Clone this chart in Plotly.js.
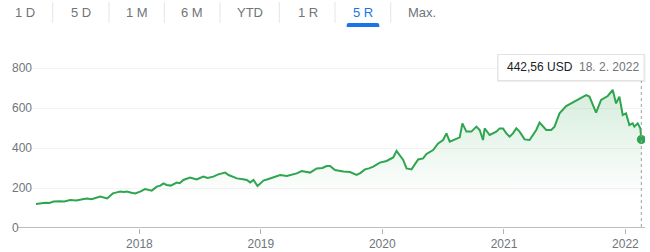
<!DOCTYPE html>
<html>
<head>
<meta charset="utf-8">
<script src="https://cdn.plot.ly/plotly-3.0.1.min.js"></script>
<style>
html,body{margin:0;padding:0;background:#fff;}
#chart{width:650px;height:252px;}
</style>
</head>
<body>
<div id="chart"></div>
<script>
// ---- data ----
const dates = [
 '2017-02-24','2017-03-10','2017-03-24','2017-04-05','2017-04-18','2017-05-05','2017-05-20','2017-06-07','2017-06-25','2017-07-10',
 '2017-07-27','2017-08-10','2017-08-22','2017-09-05','2017-09-26','2017-10-13','2017-10-25','2017-11-04','2017-11-15','2017-11-24',
 '2017-12-08','2017-12-19',
 '2018-01-03','2018-01-18','2018-02-07','2018-02-22','2018-03-05','2018-03-14','2018-03-24','2018-04-05','2018-04-23','2018-05-02',
 '2018-05-13','2018-06-02','2018-06-22','2018-07-12','2018-07-25','2018-08-11','2018-08-26','2018-09-16','2018-09-26','2018-10-10',
 '2018-10-21','2018-11-08','2018-11-20','2018-11-30','2018-12-10','2018-12-22',
 '2019-01-09','2019-01-24','2019-02-08','2019-02-28','2019-03-20','2019-04-05','2019-04-19','2019-05-04','2019-05-29','2019-06-18',
 '2019-07-05','2019-07-18','2019-07-28','2019-08-12','2019-08-25','2019-09-06','2019-09-26','2019-10-16','2019-10-28','2019-11-10',
 '2019-11-22','2019-12-05','2019-12-25',
 '2020-01-14','2020-02-03','2020-02-13','2020-03-04','2020-03-14','2020-03-29','2020-04-03','2020-04-18','2020-05-03','2020-05-13',
 '2020-06-02','2020-06-17','2020-07-02','2020-07-12','2020-07-22','2020-08-11','2020-08-21','2020-08-29','2020-09-10','2020-09-25',
 '2020-10-10','2020-10-20','2020-10-30','2020-11-04','2020-11-19','2020-12-09','2020-12-19','2020-12-29',
 '2021-01-08','2021-01-18','2021-01-28','2021-02-07','2021-02-17','2021-03-04','2021-03-19','2021-04-08','2021-04-18','2021-05-08',
 '2021-05-23','2021-06-02','2021-06-17','2021-07-07','2021-07-22','2021-08-16','2021-09-05','2021-09-15','2021-10-05','2021-10-20',
 '2021-11-09','2021-11-24','2021-12-04','2021-12-14','2021-12-24',
 '2022-01-03','2022-01-13','2022-01-23','2022-01-28','2022-02-07','2022-02-15','2022-02-18'
];
const prices = [
 120,124,126,125,132,134,133,140,138,143,
 147,144,149,157,148,173,178,182,180,182,
 176,173,
 182,195,187,207,212,223,215,212,227,224,
 240,252,243,257,250,257,268,277,265,256,
 248,244,240,228,240,210,
 237,245,253,265,260,266,273,285,277,298,
 300,310,310,290,286,282,280,265,276,293,
 298,307,327,
 335,353,385,340,298,293,307,343,348,370,
 390,423,440,473,432,448,453,523,482,482,
 507,490,440,498,465,482,498,498,
 473,457,473,498,482,443,440,490,527,490,
 490,507,573,610,623,648,665,657,577,640,
 660,690,623,657,565,
 573,515,523,507,523,498,442.56
];
const yTicks = [0, 200, 400, 600, 800];
const xTickVals = ['2018-01-01','2019-01-01','2020-01-01','2021-01-01','2022-01-01'];
const xTickText = ['2018','2019','2020','2021','2022'];
const tabs = ['1 D','5 D','1 M','6 M','YTD','1 R','5 R','Max.'];
const activeTab = '5 R';
const tipPrice = '442,56 USD';
const tipDate = '18. 2. 2022';

// ---- layout geometry ----
const W = 650, H = 252, L = 33, R = 5, T = 48, B = 24;
const PW = W - L - R, PH = H - T - B;
const px = v => (v - L) / PW;
const py = v => (H - B - v) / PH;
const FONT = 'Arial, "Liberation Sans", sans-serif';
const GREEN = '#2ea54f';
const GRAY = '#70757a';

const lastDate = dates[dates.length - 1];
const lastPrice = prices[prices.length - 1];

const traces = [
  {
    x: dates, y: prices, type: 'scatter', mode: 'lines',
    line: {color: GREEN, width: 2},
    fill: 'tozeroy',
    fillgradient: {type: 'vertical', start: 150, stop: 700,
      colorscale: [[0, 'rgba(46,165,79,0)'], [1, 'rgba(46,165,79,0.2)']]},
    hoverinfo: 'skip'
  },
  {
    x: [lastDate], y: [lastPrice], type: 'scatter', mode: 'markers',
    marker: {color: GREEN, size: 9}, hoverinfo: 'skip'
  }
];

const tabCenters = [25, 80.7, 137, 192, 250, 307.7, 363];
const seps = [52.7, 109, 164.3, 220, 279.3, 335, 390.7];

const annotations = [];
yTicks.forEach(v => annotations.push({
  xref: 'paper', yref: 'y', x: px(10), y: v, xanchor: 'left', yanchor: 'middle',
  text: String(v), showarrow: false, font: {family: FONT, size: 12, color: GRAY}
}));
tabs.forEach((t, i) => {
  const isMax = i === tabs.length - 1;
  annotations.push({
    xref: 'paper', yref: 'paper',
    x: isMax ? px(406) : px(tabCenters[i]), xanchor: isMax ? 'left' : 'center',
    y: py(12.5), yanchor: 'middle', text: t, showarrow: false,
    font: {family: FONT, size: 13, color: t === activeTab ? '#1a73e8' : GRAY}
  });
});
annotations.push({
  xref: 'paper', yref: 'paper', x: px(505), y: py(67), xanchor: 'left', yanchor: 'middle',
  text: tipPrice, showarrow: false, font: {family: FONT, size: 12, color: '#202124'}
});
annotations.push({
  xref: 'paper', yref: 'paper', x: px(577), y: py(67), xanchor: 'left', yanchor: 'middle',
  text: tipDate, showarrow: false, font: {family: FONT, size: 12, color: GRAY}
});

const shapes = [];
seps.forEach(s => shapes.push({
  type: 'line', xref: 'paper', yref: 'paper', x0: px(s), x1: px(s), y0: py(2), y1: py(23),
  line: {color: '#e3e5e8', width: 1}
}));
// active tab underline (rounded top)
{
  const x0 = px(346.7), x1 = px(379.3), r = px(348.7) - px(346.7);
  const yb = py(27), yt = py(23), yr = py(25);
  shapes.push({type: 'path', xref: 'paper', yref: 'paper',
    path: `M${x0},${yb} L${x0},${yr} Q${x0},${yt} ${x0 + r},${yt} L${x1 - r},${yt} Q${x1},${yt} ${x1},${yr} L${x1},${yb} Z`,
    fillcolor: '#1a73e8', line: {width: 0}});
}
// baseline axis line extending left of plot
shapes.push({type: 'line', xref: 'paper', yref: 'y', x0: px(17), x1: 1, y0: 0, y1: 0,
  line: {color: '#bdbdbd', width: 2}, layer: 'above'});
// dotted hover line
shapes.push({type: 'line', xref: 'x', yref: 'paper', x0: lastDate, x1: lastDate, y0: py(227), y1: py(80),
  line: {color: '#9aa0a6', width: 1, dash: 'dot'}});
// tooltip shadow + box
shapes.push({type: 'rect', xref: 'paper', yref: 'paper', x0: px(497), x1: px(645.5), y0: py(82), y1: py(54),
  fillcolor: 'rgba(0,0,0,0.07)', line: {width: 0}});
shapes.push({type: 'rect', xref: 'paper', yref: 'paper', x0: px(498), x1: px(644), y0: py(80.5), y1: py(54.5),
  fillcolor: '#ffffff', line: {color: '#e3e3e3', width: 1}});

const layout = {
  width: W, height: H,
  margin: {l: L, r: R, t: T, b: B, pad: 0},
  paper_bgcolor: '#ffffff', plot_bgcolor: '#ffffff',
  showlegend: false, hovermode: false,
  font: {family: FONT, size: 12, color: GRAY},
  xaxis: {
    type: 'date', range: ['2017-02-15', '2022-03-01'],
    tickvals: xTickVals, ticktext: xTickText,
    ticks: 'outside', ticklen: 5, tickwidth: 1, tickcolor: '#b5b5b5',
    showgrid: false, zeroline: false, showline: false,
    tickfont: {family: FONT, size: 12, color: GRAY}, fixedrange: true
  },
  yaxis: {
    range: [0, 900], tickvals: yTicks, showticklabels: false,
    showgrid: true, gridcolor: '#f3f3f3', gridwidth: 1,
    zeroline: false, showline: false, fixedrange: true
  },
  annotations: annotations,
  shapes: shapes
};

Plotly.newPlot('chart', traces, layout, {displayModeBar: false, staticPlot: true});
</script>
</body>
</html>
